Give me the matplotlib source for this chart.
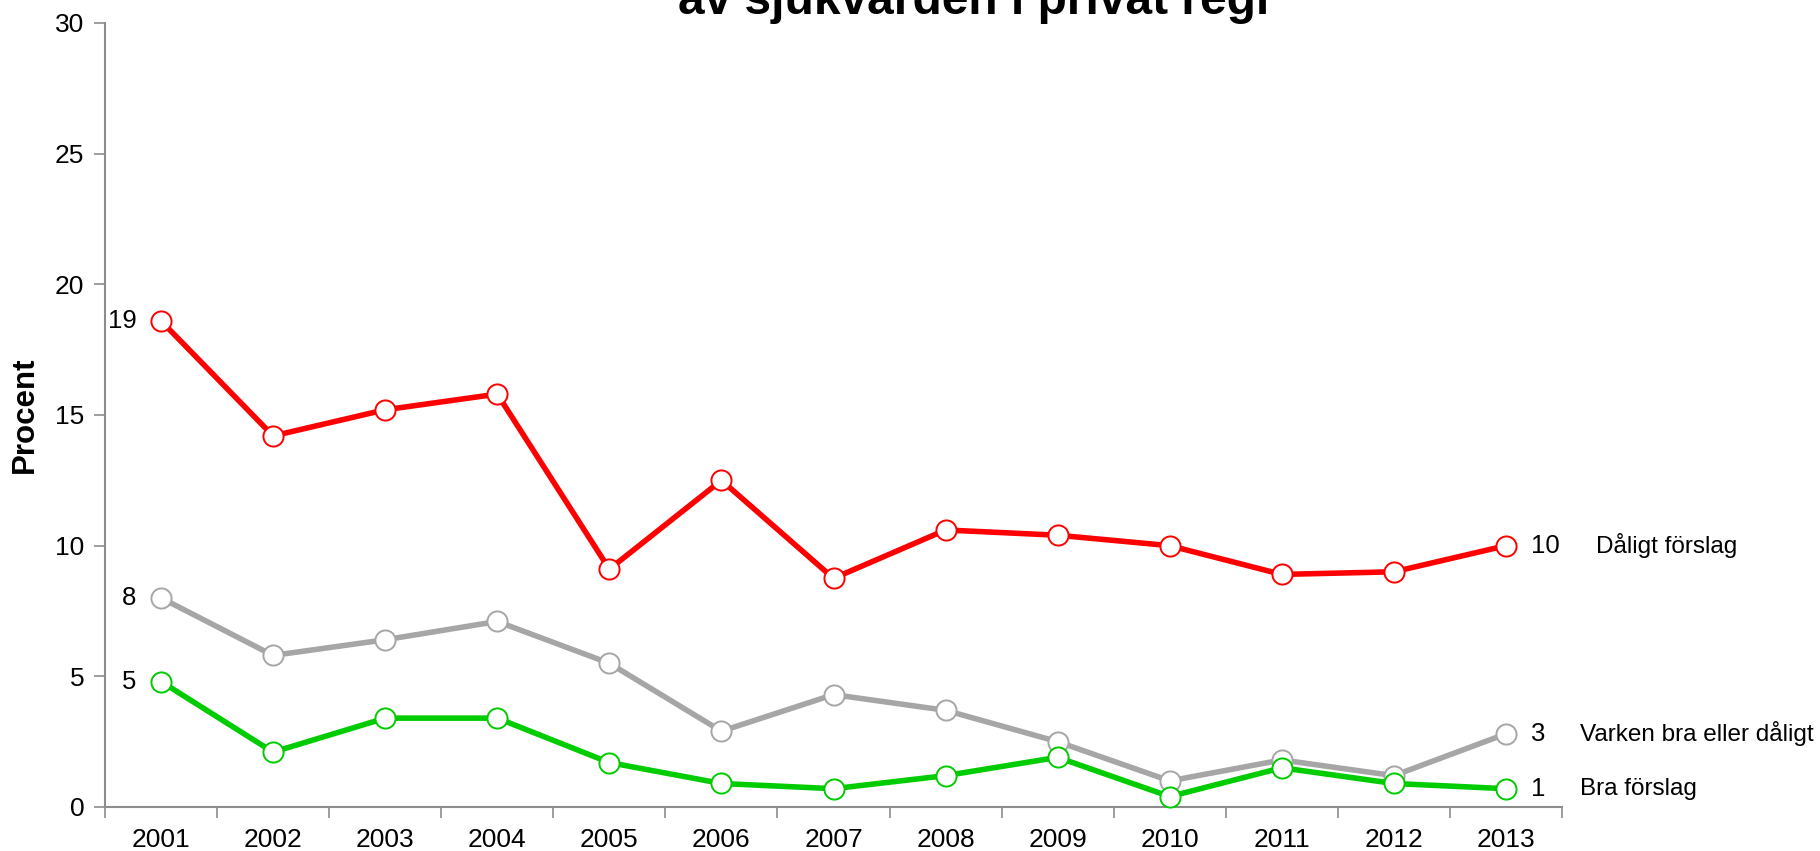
import numpy as np
import matplotlib.pyplot as plt

plt.rcParams['font.family'] = ['Liberation Sans', 'DejaVu Sans']

# data
years = ['2001', '2002', '2003', '2004', '2005', '2006', '2007',
         '2008', '2009', '2010', '2011', '2012', '2013']
daligt = [18.6, 14.2, 15.2, 15.8, 9.1, 12.5, 8.75, 10.6, 10.4, 10.0, 8.9, 9.0, 10.0]
varken = [8.0, 5.8, 6.4, 7.1, 5.5, 2.9, 4.3, 3.7, 2.5, 1.0, 1.8, 1.2, 2.8]
bra = [4.8, 2.1, 3.4, 3.4, 1.7, 0.9, 0.7, 1.2, 1.9, 0.4, 1.5, 0.9, 0.7]

series = [
    ('Dåligt förslag', daligt, '#ff0000', 0.80),
    ('Varken bra eller dåligt', varken, '#a6a6a6', 0.66),
    ('Bra förslag', bra, '#00cc00', 0.66),
]

fig = plt.figure(figsize=(18.2, 8.51), dpi=100)
ax = fig.add_axes([105 / 1820, 1 - 807 / 851, 1457 / 1820, 784 / 851])

x = np.arange(len(years))
for name, vals, col, txt_off in series:
    ax.plot(x, vals, color=col, lw=4, marker='o', ms=14.5,
            mfc='white', mec=col, mew=1.4, zorder=3, clip_on=False)
    # value labels at start and end
    ax.text(x[0] - 0.22, vals[0], f'{vals[0]:.0f}', ha='right', va='center', fontsize=18.5)
    ax.text(x[-1] + 0.22, vals[-1], f'{vals[-1]:.0f}', ha='left', va='center', fontsize=18.5)
    ax.text(x[-1] + txt_off, vals[-1], name, ha='left', va='center', fontsize=17.5)

ax.set_xlim(-0.5, len(years) - 0.5)
ax.set_ylim(0, 30)
ax.set_yticks(range(0, 31, 5))
ax.set_xticks(np.arange(-0.5, len(years), 1))
ax.set_xticklabels([])
ax.set_xticks(x, minor=True)
ax.set_xticklabels(years, minor=True)

for s in ['top', 'right']:
    ax.spines[s].set_visible(False)
for s in ['left', 'bottom']:
    ax.spines[s].set_color('#8c8c8c')
    ax.spines[s].set_linewidth(1.5)

ax.tick_params(axis='both', which='major', color='#8c8c8c', width=1.2, length=8,
               labelsize=19, direction='out')
ax.tick_params(axis='y', pad=7)
ax.tick_params(axis='x', which='minor', length=0, labelsize=19, pad=15)

ax.set_ylabel('Procent', fontsize=22.5, fontweight='bold')
ax.yaxis.set_label_coords(-0.045, 0.5)

fig.text(974 / 1820, 1 - 14 / 851, 'av sjukvården i privat regi', ha='center',
         va='baseline', fontsize=34.5, fontweight='bold')

fig.savefig('out.png', dpi=100)
